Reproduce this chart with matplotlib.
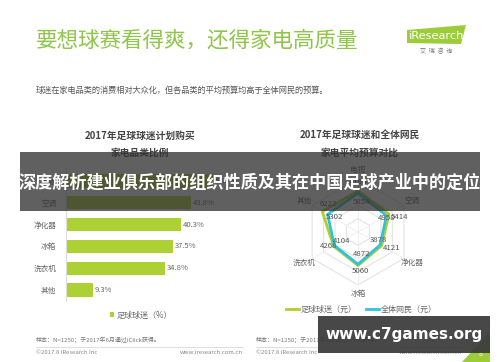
import numpy as np
import matplotlib
matplotlib.use('Agg')
import matplotlib.pyplot as plt
from matplotlib.patches import Rectangle, Polygon

plt.rcParams['font.family'] = ['Noto Sans CJK SC', 'DejaVu Sans']

# 数据
categorias = ['电视', '空调', '净化器', '冰箱', '洗衣机', '其他']
porcentaje = [51.6, 43.8, 40.3, 37.5, 34.8, 9.3]

radar_ejes = ['电视', '空调', '净化器', '冰箱', '洗衣机', '其他']
hinchas = [6180, 5414, 4121, 5060, 4268, 6222]
internautas = [5854, 4958, 3878, 4872, 4104, 5302]
rejilla = [2000, 4000, 6000, 8000]

W, H = 500, 362
def fx(x): return x / W
def fy(y): return 1 - y / H

fig = plt.figure(figsize=(5, 3.62), dpi=100)
fig.patch.set_facecolor('white')

verde_titulo = '#8fc54a'
verde_barra = '#add135'
verde_linea = '#b5cc2f'
cian = '#2ec3da'
gris = '#666666'

# titulo
fig.text(fx(36), fy(41), '要想球赛看得爽，还得家电高质量', fontsize=15.5,
         color=verde_titulo, ha='left', va='center')
fig.text(fx(36), fy(90), '球迷在家电品类的消费相对大众化，但各品类的平均预算均高于全体网民的预算。',
         fontsize=5.9, color='#555555', ha='left', va='center')

# logo
fig.add_artist(Polygon([(fx(407), fy(30)), (fx(466), fy(25)), (fx(461), fy(44)), (fx(407), fy(43))],
                       closed=True, transform=fig.transFigure, color='#9ccc3a', lw=0))
fig.text(fx(409), fy(36), 'iResearch', fontsize=8.2, color='white', ha='left', va='center',
         family='DejaVu Sans')
fig.text(fx(436), fy(51), '艾  瑞  咨  询', fontsize=4.3, color='#777777', ha='center', va='center')

# subtitulos de graficos
fig.text(fx(140), fy(136), '2017年足球球迷计划购买', fontsize=7, weight='bold', color='#444444',
         ha='center', va='center')
fig.text(fx(140), fy(153), '家电品类比例', fontsize=7, weight='bold', color='#444444',
         ha='center', va='center')
fig.text(fx(360), fy(136), '2017年足球球迷和全体网民', fontsize=7, weight='bold', color='#444444',
         ha='center', va='center')
fig.text(fx(360), fy(153), '家电平均预算对比', fontsize=7, weight='bold', color='#444444',
         ha='center', va='center')

# GRAFICO DE BARRAS
paso = 21.8
y0 = 181 - paso / 2
y1 = 290 + paso / 2
ax1 = fig.add_axes([fx(66), fy(y1), 171 / W, (y1 - y0) / H])
pos = np.arange(len(categorias))
barras = ax1.barh(pos, porcentaje, height=0.6, color=verde_barra, label='足球球迷（%）')
ax1.set_xlim(0, 60)
ax1.set_ylim(len(categorias) - 0.5, -0.5)
ax1.set_yticks(pos)
ax1.set_yticklabels(categorias, fontsize=5.5, color=gris)
ax1.tick_params(axis='y', length=0, pad=7)
ax1.set_xticks([])
for s in ['top', 'right', 'bottom']:
    ax1.spines[s].set_visible(False)
ax1.spines['left'].set_color('#dddddd')
ax1.spines['left'].set_linewidth(0.8)
ax1.patch.set_alpha(0)
for p, v in zip(pos, porcentaje):
    ax1.text(v + 0.6, p, f'{v}%', fontsize=5.5, color=gris, ha='left', va='center')
ax1.legend(handles=[barras], loc='center', bbox_to_anchor=(fx(141), fy(315)),
           bbox_transform=fig.transFigure, frameon=False, fontsize=5.8, handlelength=0.6,
           handleheight=0.6, handletextpad=0.3, labelcolor=gris)

# GRAFICO RADAR
cx, cy, R = 358, 232, 53
ax2 = fig.add_axes([fx(cx - R), fy(cy + R), 2 * R / W, 2 * R / H], projection='polar')
ax2.set_theta_offset(np.pi / 2)
ax2.set_theta_direction(-1)
ang = np.arange(len(radar_ejes)) * 2 * np.pi / len(radar_ejes)
ang_c = np.r_[ang, ang[0]]
ax2.set_ylim(0, rejilla[-1])
ax2.grid(False)
ax2.spines['polar'].set_visible(False)
ax2.set_xticks([])
ax2.set_yticks([])
ax2.patch.set_alpha(0)
for r in rejilla:
    ax2.plot(ang_c, [r] * len(ang_c), color='#e4e4e4', lw=0.8, zorder=1)
for a in ang:
    ax2.plot([a, a], [0, rejilla[-1]], color='#ececec', lw=0.6, zorder=1)
l1, = ax2.plot(ang_c, np.r_[hinchas, hinchas[0]], color=verde_linea, lw=2, zorder=3,
               label='足球球迷（元）')
l2, = ax2.plot(ang_c, np.r_[internautas, internautas[0]], color=cian, lw=2, zorder=4,
               label='全体网民（元）')
for a, n in zip(ang, radar_ejes):
    ax2.text(a, 9400, n, fontsize=5.5, color=gris, ha='center', va='center', clip_on=False)

off_verde = [(0, 9), (10, -3), (10, -2), (2, -5), (-5, 0), (6, 7)]
off_cian = [(3, -9), (0, -2), (-2, 5), (4, 10), (7.5, 4.5), (7, -3)]
for a, v, o in zip(ang, hinchas, off_verde):
    ax2.annotate(str(v), (a, v), xytext=o, textcoords='offset pixels', fontsize=5.6,
                 color='#555555', ha='center', va='center', zorder=5)
for a, v, o in zip(ang, internautas, off_cian):
    ax2.annotate(str(v), (a, v), xytext=o, textcoords='offset pixels', fontsize=5.6,
                 color='#555555', ha='center', va='center', zorder=5)
ax2.legend(handles=[l1, l2], loc='center', bbox_to_anchor=(fx(361), fy(309)),
           bbox_transform=fig.transFigure, frameon=False, fontsize=5.8, ncol=2,
           handlelength=1.6, handletextpad=0.2, columnspacing=1.2, labelcolor=gris)

# pies de pagina
for xi, xd in [(36, 243), (256, 462)]:
    fig.text(fx(xi), fy(340), '样本：N=1250；于2017年6月通过iClick获得。', fontsize=4.3,
             color='#777777', ha='left', va='center')
    fig.text(fx(xi), fy(353), '©2017.8 iResearch Inc', fontsize=4.3, color='#888888',
             ha='left', va='center')
    fig.text(fx(xd), fy(353), 'www.iresearch.com.cn', fontsize=4.3, color='#888888',
             ha='right', va='center')
    fig.add_artist(plt.Line2D([fx(xi), fx(xd)], [fy(347), fy(347)], color='#e0e0e0', lw=0.8))

# esquina
fig.add_artist(Polygon([(fx(462), fy(362)), (fx(490), fy(332)), (fx(490), fy(362))],
                       closed=True, transform=fig.transFigure, color='#9ccc3a', lw=0, zorder=8))
fig.text(fx(481), fy(354), '8', fontsize=5, color='white', ha='center', va='center', zorder=9)

# banner
fig.add_artist(Rectangle((fx(20), fy(211)), 460 / W, 59 / H, transform=fig.transFigure,
                         color='#303030', alpha=0.77, lw=0, zorder=10))
fig.text(fx(250), fy(183), '深度解析建业俱乐部的组织性质及其在中国足球产业中的定位', fontsize=12.3,
         weight='bold', color='white', ha='center', va='center', zorder=11)

# marca de agua
fig.add_artist(Rectangle((fx(318), fy(353)), 172 / W, 37 / H, transform=fig.transFigure,
                         color='#3a3a3a', alpha=0.93, lw=0, zorder=10))
fig.text(fx(404), fy(335), 'www.c7games.org', fontsize=11, weight='bold', color='white',
         ha='center', va='center', zorder=11, family='DejaVu Sans')

fig.savefig('out.png', dpi=100)
